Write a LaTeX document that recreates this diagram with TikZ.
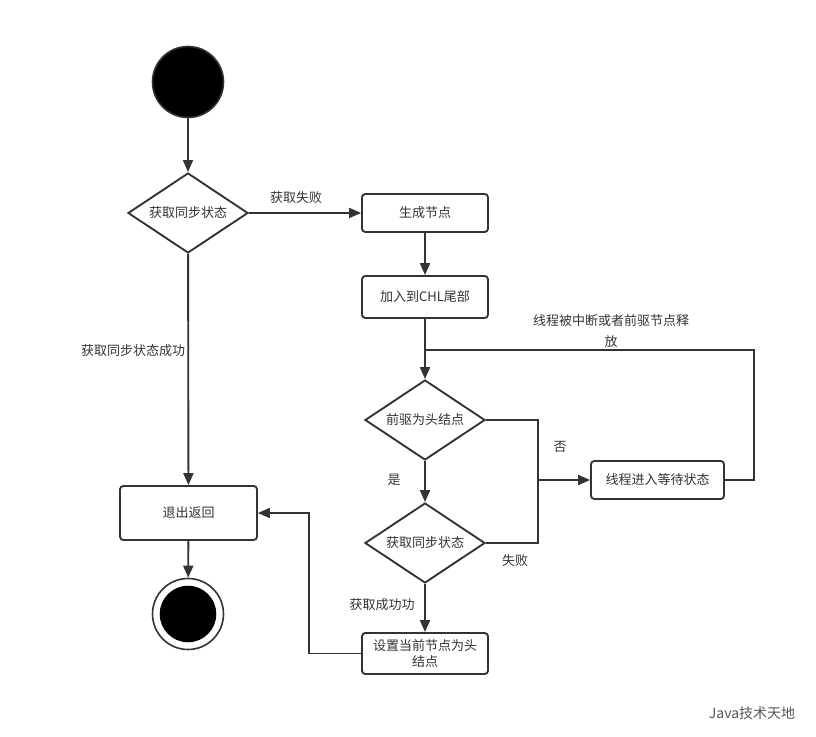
\documentclass[tikz,border=0pt]{standalone}
\usepackage{fontspec}
\setmainfont{Noto Sans CJK SC}
\usetikzlibrary{shapes.geometric,arrows.meta}
\definecolor{ln}{HTML}{333333}
\definecolor{wm}{HTML}{555555}
\begin{document}
\begin{tikzpicture}[x=0.75pt,y=-0.75pt,
  font=\fontsize{9.75}{12}\selectfont,
  every node/.style={text=ln},
  line/.style={draw=ln,line width=1.4pt},
  arr/.style={line,-{Triangle[length=9pt,width=7.5pt]}},
  boxst/.style={draw=ln,line width=1.4pt,rounded corners=2.5pt,fill=white,inner sep=1pt,align=center},
  dia/.style={diamond,aspect=1.5,draw=ln,line width=1.4pt,fill=white,inner sep=0pt,minimum width=90pt,minimum height=60pt},
  lbl/.style={inner sep=1pt}]
\useasboundingbox (0,0) rectangle (816,737);
% nodes
\node[circle,fill=black,draw=ln,line width=1.2pt,minimum size=53.25pt,inner sep=0pt] (start) at (188,82) {};
\node[dia] (d1) at (188,213) {获取同步状态};
\node[boxst,minimum width=94.5pt,minimum height=28.5pt] (gen) at (425,213) {生成节点};
\node[boxst,minimum width=94.5pt,minimum height=31.5pt] (add) at (425,297) {加入到CHL尾部};
\node[dia] (d2) at (425,420) {前驱为头结点};
\node[boxst,minimum width=99.75pt,minimum height=28.5pt] (wait) at (657.5,480) {线程进入等待状态};
\node[dia] (d3) at (425,543) {获取同步状态};
\node[boxst,minimum width=94.5pt,minimum height=30.75pt,font=\fontsize{9.75}{11.5}\selectfont] (set) at (425,653.5) {设置当前节点为头\\结点};
\node[boxst,minimum width=102.75pt,minimum height=40.5pt] (exit) at (188.5,513) {退出返回};
\node[circle,draw=ln,line width=1.2pt,fill=white,minimum size=53.25pt,inner sep=0pt] (end) at (188,614) {};
\fill[black] (end.center) circle (21.2pt);
% coordinates
\coordinate (m) at (425,350);
\coordinate (lr) at (754,350);
\coordinate (j) at (538,480);
\coordinate (k) at (309,513);
% connectors
\draw[arr] (start) -- (d1);
\draw[arr] (d1) -- (gen);
\draw[arr] (gen) -- (add);
\draw[arr] (add) -- (d2);
\draw[line] (wait.east) -| (lr) -- (m);
\draw[line] (d2.east) -| (j);
\draw[line] (d3.east) -| (j);
\draw[arr] (j) -- (wait.west);
\draw[arr] (d2) -- (d3);
\draw[arr] (d3) -- (set);
\draw[arr] (set.west) -| (k) -- (exit.east);
\draw[arr] (d1) -- (exit);
\draw[arr] (exit) -- (end);
% labels
\node[lbl] (l1) at (296,198) {获取失败};
\node[lbl] (l2) at (133,351) {获取同步状态成功};
\node[lbl,align=center,font=\fontsize{9.75}{15.5}\selectfont] (l3) at (611,331) {线程被中断或者前驱节点释\\放};
\node[lbl] (l4) at (560,447) {否};
\node[lbl] (l5) at (394,480) {是};
\node[lbl] (l6) at (515,561) {失败};
\node[lbl] (l7) at (382,605) {获取成功功};
\node[lbl,text=wm,font=\fontsize{10.5}{12}\selectfont] (wmk) at (752,713) {Java技术天地};
\end{tikzpicture}
\end{document}
